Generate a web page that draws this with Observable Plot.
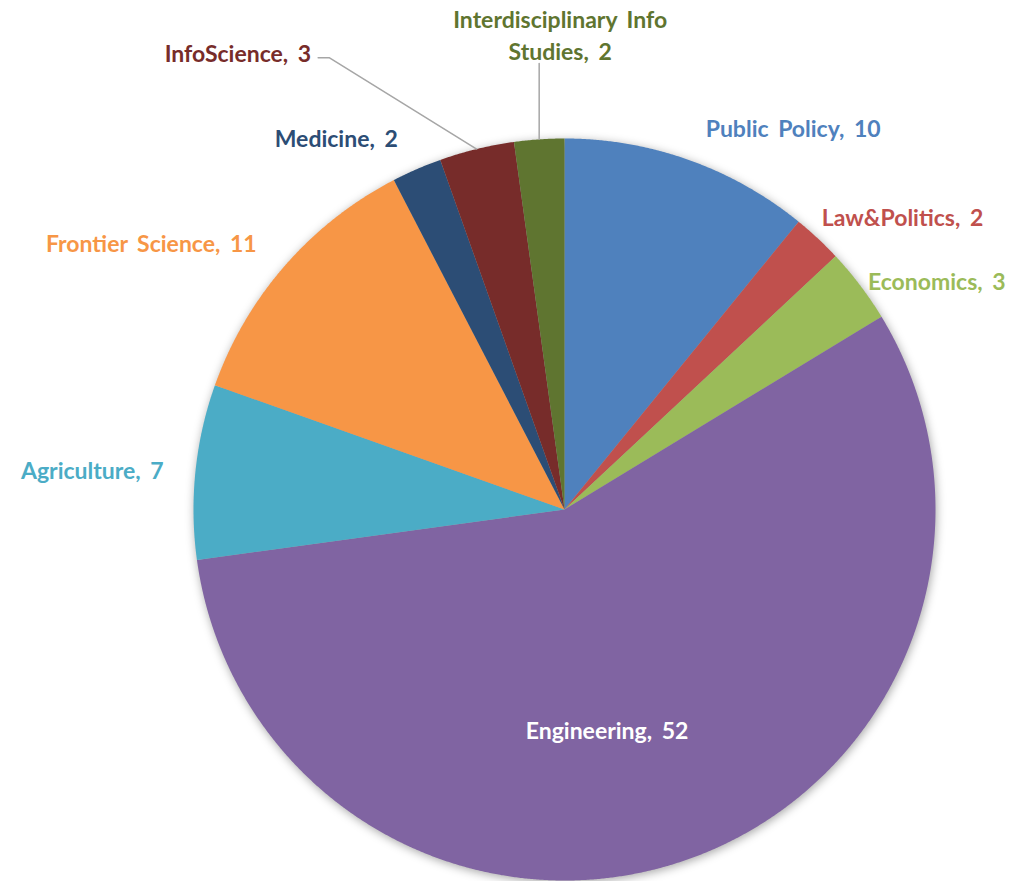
<!DOCTYPE html>
<html><head><meta charset="utf-8">
<script src="https://cdn.jsdelivr.net/npm/d3@7"></script>
<script src="https://cdn.jsdelivr.net/npm/@observablehq/plot@0.6"></script>
<style>
html,body{margin:0;padding:0;background:#fff}
#chart svg text{word-spacing:4px}
</style></head><body><div id="chart"></div>
<script>
// ---- data ----
const categories = ["Public Policy","Law&Politics","Economics","Engineering","Agriculture","Frontier Science","Medicine","InfoScience","Interdisciplinary Info Studies"];
const values = [10, 2, 3, 52, 7, 11, 2, 3, 2];
const labelTexts = ["Public Policy, 10","Law&Politics, 2","Economics, 3","Engineering, 52","Agriculture, 7","Frontier Science, 11","Medicine, 2","InfoScience, 3","Interdisciplinary Info\nStudies, 2"];
const colors = ["#4F81BD","#C0504D","#9BBB59","#8064A2","#4BACC6","#F79646","#2C4D75","#772C2A","#5F7530"];

// ---- layout (pixels) ----
const W = 1028, H = 881, CX = 564, CY = 509, R = 371;
// label placement: radius factor of the anchor, text anchor, pixel nudges, leader line
const labelLayout = [
  {r: 1.04, anchor: "start",  dx: 12,   dy: -19, leader: null},
  {r: 1.04, anchor: "start",  dx: -6,   dy: -12, leader: null},
  {r: 1.04, anchor: "start",  dx: -4,   dy: 3,   leader: null},
  {r: 0.60, anchor: "middle", dx: -32,  dy: 9,   leader: null},
  {r: 1.04, anchor: "end",    dx: -17,  dy: -1,  leader: null},
  {r: 1.04, anchor: "end",    dx: -17,  dy: -14, leader: null},
  {r: 1.04, anchor: "end",    dx: -13,  dy: -19, leader: null},
  {r: 1.04, anchor: "end",    dx: -162, dy: -83, leader: "elbow"},
  {r: 1.04, anchor: "middle", dx: 22,   dy: -91, leader: "vertical"}
];

const pie = d3.pie().sort(null).value(d => d)(values);
const u = px => px / R; // pixels -> radius units

// slice polygons
const slicePts = [];
pie.forEach((p, i) => {
  slicePts.push({k: i, x: 0, y: 0, fill: colors[i]});
  const n = Math.max(4, Math.ceil((p.endAngle - p.startAngle) / 0.004));
  for (let j = 0; j <= n; j++) {
    const a = p.startAngle + (p.endAngle - p.startAngle) * j / n;
    slicePts.push({k: i, x: Math.sin(a), y: Math.cos(a), fill: colors[i]});
  }
});

// labels
const labels = pie.map((p, i) => {
  const L = labelLayout[i];
  const a = (p.startAngle + p.endAngle) / 2;
  return {
    text: labelTexts[i],
    x: L.r * Math.sin(a) + u(L.dx),
    y: L.r * Math.cos(a) - u(L.dy),
    anchor: L.anchor,
    color: i === 3 ? "#FFFFFF" : colors[i],
    mid: a, leader: L.leader
  };
});

// leader lines
const leaderPts = [];
labels.forEach((l, i) => {
  if (!l.leader) return;
  const ex = Math.sin(l.mid), ey = Math.cos(l.mid);
  if (l.leader === "elbow") {
    const ly = l.y - u(6);
    leaderPts.push({k: i, x: ex, y: ey});
    leaderPts.push({k: i, x: l.x + u(18), y: ly});
    leaderPts.push({k: i, x: l.x + u(7), y: ly});
  } else {
    leaderPts.push({k: i, x: ex, y: ey});
    leaderPts.push({k: i, x: ex, y: l.y - u(30)});
  }
});

const common = {fontFamily: "Lato", fontWeight: "bold", fontSize: 23, lineHeight: 1.4};
const textMarks = ["start", "middle", "end"].map(anc =>
  Plot.text(labels.filter(d => d.anchor === anc), {
    x: "x", y: "y", text: "text", fill: "color", textAnchor: anc, ...common
  })
);

const svg = Plot.plot({
  width: W, height: H,
  marginTop: 0, marginRight: 0, marginBottom: 0, marginLeft: 0,
  x: {domain: [u(-CX), u(W - CX)], axis: null},
  y: {domain: [u(-(H - CY)), u(CY)], axis: null},
  color: {type: "identity"},
  style: {background: "#fff", overflow: "visible"},
  marks: [
    Plot.line(slicePts, {x: "x", y: "y", z: "k", fill: "fill", stroke: "none"}),
    Plot.line(leaderPts, {x: "x", y: "y", z: "k", stroke: "#A6A6A6", strokeWidth: 1.5}),
    ...textMarks
  ]
});
const g = svg.querySelector('g[aria-label="line"]');
if (g) g.style.filter = "drop-shadow(1px 2px 5px rgba(0,0,0,0.35))";
document.getElementById("chart").appendChild(svg);
</script>
</body></html>
